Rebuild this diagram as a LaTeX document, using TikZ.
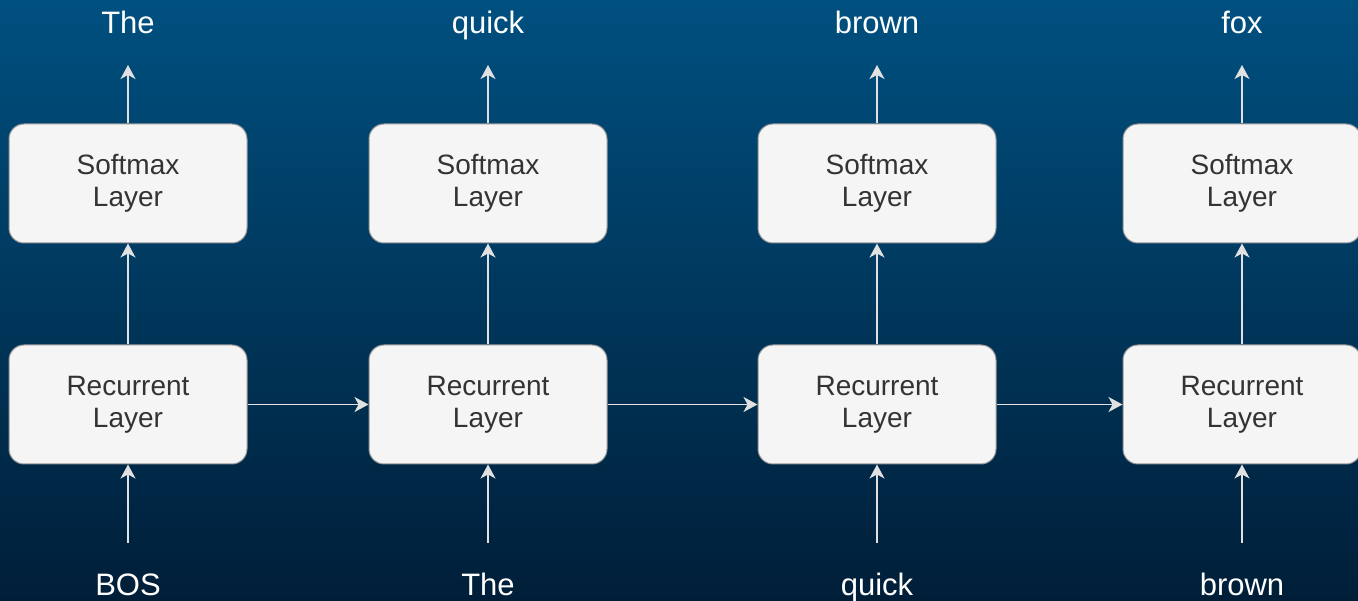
\documentclass[tikz,border=0pt]{standalone}
\usepackage{fontspec}
\setmainfont{Liberation Sans}
\usetikzlibrary{arrows.meta}
\definecolor{bgtop}{RGB}{0,80,128}
\definecolor{bgbot}{RGB}{0,30,56}
\definecolor{boxfill}{RGB}{245,245,245}
\definecolor{boxline}{RGB}{150,150,150}
\definecolor{boxtext}{RGB}{51,51,51}
\definecolor{wire}{RGB}{225,225,225}
\tikzset{
  layer/.style={draw=boxline, line width=1pt, fill=boxfill, rounded corners=15pt,
    minimum width=238pt, minimum height=119pt, inner sep=0pt,
    align=center, text=boxtext, font=\fontsize{28}{32}\selectfont},
  word/.style={text=white, font=\fontsize{31}{34}\selectfont, inner sep=0pt, anchor=base},
  flow/.style={draw=wire, line width=1.5pt, -{Stealth[length=14pt,width=15pt,inset=4pt]}},
}
\begin{document}
\begin{tikzpicture}[x=1pt,y=-1pt]
  \shade[top color=bgtop, bottom color=bgbot] (0,0) rectangle (1358,601);
  \useasboundingbox (0,0) rectangle (1358,601);
  \begin{scope}
    \clip (0,0) rectangle (1358,601);
    % four time steps: softmax layer above a recurrent layer
    \foreach \i/\x/\outw/\inw in {1/128/The/BOS, 2/488/quick/The, 3/877/brown/quick, 4/1242/fox/brown}{
      \node[layer] (s\i) at (\x,183.5) {Softmax\\Layer};
      \node[layer] (r\i) at (\x,404.5) {Recurrent\\Layer};
      \node[word] (o\i) at (\x,34) {\outw};
      \node[word] (w\i) at (\x,595) {\inw};
      \coordinate (ot\i) at (\x,65);
      \coordinate (ib\i) at (\x,543);
      \draw[flow] (s\i.north) -- (ot\i);
      \draw[flow] (r\i.north) -- (s\i.south);
      \draw[flow] (ib\i) -- (r\i.south);
    }
    % hidden state passed to the next step
    \draw[flow] (r1.east) -- (r2.west);
    \draw[flow] (r2.east) -- (r3.west);
    \draw[flow] (r3.east) -- (r4.west);
  \end{scope}
\end{tikzpicture}
\end{document}
